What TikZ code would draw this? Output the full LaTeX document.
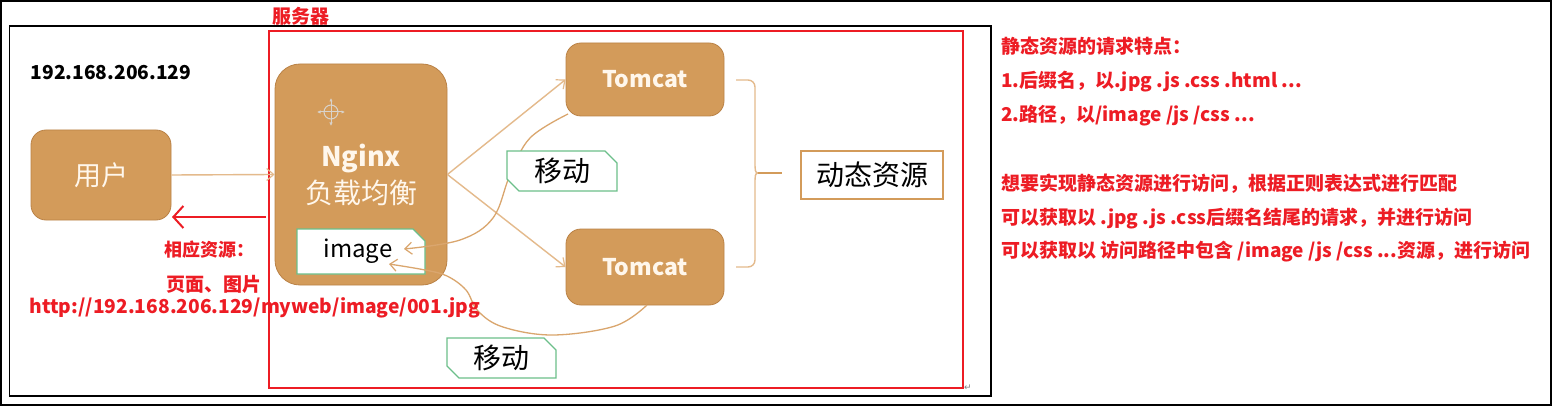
\documentclass[tikz,border=0pt]{standalone}
\usepackage{fontspec}
\setmainfont{Noto Sans CJK SC}
\newfontfamily\djv{DejaVu Sans}
\usetikzlibrary{arrows.meta,shapes.misc}
\definecolor{tanfill}{RGB}{211,155,90}
\definecolor{tanedge}{RGB}{186,130,70}
\definecolor{tanline}{RGB}{228,186,140}
\definecolor{tancurve}{RGB}{218,166,110}
\definecolor{greenedge}{RGB}{108,191,138}
\definecolor{redtxt}{RGB}{237,28,36}
\definecolor{cream}{RGB}{255,247,236}
\tikzset{
  tanbox/.style={rectangle, rounded corners=15pt, fill=tanfill, draw=tanedge, line width=0.8pt, text=cream, inner sep=0pt},
  snipbox/.style={chamfered rectangle, chamfered rectangle xsep=6pt, chamfered rectangle ysep=6pt, chamfered rectangle angle=45, fill=white, draw=greenedge, line width=1.4pt, inner sep=0pt},
  flow/.style={draw=tanline, line width=1.4pt, -{Straight Barb[length=7pt,width=12pt,line width=1.2pt]}},
  movecurve/.style={draw=tancurve, line width=1.3pt, -{Straight Barb[length=7pt,width=12pt,line width=1.2pt]}},
  redlabel/.style={text=redtxt, font=\bfseries\fontsize{18}{18}\selectfont, inner sep=0pt},
  note/.style={text=redtxt, font=\bfseries\fontsize{19}{19}\selectfont, inner sep=0pt, anchor=base west},
  frame/.style={draw=black, line width=1.3pt}
}
\begin{document}
\begin{tikzpicture}[x=1pt,y=-1pt]
\useasboundingbox (0,0) rectangle (1552,406);
\fill[white] (0,0) rectangle (1552,406);
% frames
\draw[frame] (1,1) rectangle (1551,405);
\draw[frame] (9.5,26) rectangle (991,396);
\draw[draw=redtxt, line width=2.6pt] (269,31) rectangle (963,388);
\node[redlabel, font=\bfseries\fontsize{19}{19}\selectfont] (server) at (301,16) {服务器};
\node[gray, font=\djv\fontsize{9}{9}\selectfont, inner sep=0pt] (pmark) at (968,388) {↵};

% ip
\node[inner sep=0pt, font=\bfseries\fontsize{19.2}{19.2}\selectfont] (ip) at (111,73) {192.168.206.129};

% boxes
\node[tanbox, minimum width=140pt, minimum height=90pt, font=\fontsize{27}{27}\selectfont] (user) at (101,175) {用户};
\node[tanbox, rounded corners=25pt, minimum width=172pt, minimum height=221pt] (nginx) at (361,174.5) {};
\node[text=cream, inner sep=0pt, font=\bfseries\fontsize{27}{27}\selectfont] (ngtitle) at (361,159) {Nginx};
\node[text=cream, inner sep=0pt, font=\fontsize{28}{28}\selectfont] (ngsub) at (361,193) {负载均衡};
\node[tanbox, minimum width=158pt, minimum height=73pt, font=\bfseries\fontsize{23}{23}\selectfont] (tomA) at (645,79.5) {Tomcat};
\node[tanbox, minimum width=158pt, minimum height=76pt, font=\bfseries\fontsize{23}{23}\selectfont] (tomB) at (645,267) {Tomcat};

% crosshair icon
\coordinate (ch) at (331,112);
\begin{scope}[draw=cream!70!gray, line width=1pt]
  \draw[{Latex[length=3.5pt,width=3.5pt]}-{Latex[length=3.5pt,width=3.5pt]}] (317,112) -- (345,112);
  \draw[{Latex[length=3.5pt,width=3.5pt]}-{Latex[length=3.5pt,width=3.5pt]}] (331,98) -- (331,126);
  \draw (ch) circle (7);
\end{scope}

% flows
\coordinate (r1) at (266,217);
\coordinate (r2) at (172,217);
\draw[flow] (user.east) -- (nginx.west);
\draw[draw=redtxt, line width=2.4pt, -{Straight Barb[length=10pt,width=22pt,line width=2pt]}] (r1) -- (r2);
\draw[flow] (nginx.east) -- (tomA.west);
\draw[flow] (nginx.east) -- (tomB.west);

% image box
\node[snipbox, chamfered rectangle corners={north east}, minimum width=128pt, minimum height=45pt, font=\fontsize{24}{24}\selectfont] (img) at (361,251.5) {\hspace*{-6pt}image};

% moving curves
\coordinate (c1s) at (568,114);
\coordinate (c1e) at (404,249);
\coordinate (c2s) at (647,305);
\coordinate (c2e) at (389,264);
\draw[movecurve] plot[smooth, tension=0.6] coordinates {(c1s) (530,138) (510,175) (493,218) (460,240) (c1e)};
\draw[movecurve] plot[smooth, tension=0.6] coordinates {(c2s) (615,326) (553,335) (503,327) (478,311) (466,290) (447,276) (425,270) (c2e)};

% move labels
\node[snipbox, chamfered rectangle corners={north east, south west}, minimum width=110pt, minimum height=40pt, font=\fontsize{28}{28}\selectfont] (mv1) at (562,171) {移动};
\node[snipbox, chamfered rectangle corners={north east, south west}, minimum width=109pt, minimum height=40pt, font=\fontsize{28}{28}\selectfont] (mv2) at (501.5,358) {移动};

% brace
\coordinate (bA) at (736,80);
\coordinate (bB) at (736,267);
\coordinate (bM) at (758,173);
\coordinate (bT) at (782,173);
\draw[draw=tanline, line width=1.4pt] (bA) -- (748,80) to[out=0,in=90] (755,87) -- (755,166) to[out=-90,in=180] (bM) to[out=180,in=90] (755,180) -- (755,260) to[out=-90,in=0] (748,267) -- (bB);
\draw[draw=tanfill, line width=2.4pt] (bM) -- (bT);
\node[rectangle, fill=white, draw=tanfill, line width=1.2pt, minimum width=142pt, minimum height=48pt, inner sep=0pt, font=\fontsize{28}{28}\selectfont] (dyn) at (872,175) {动态资源};

% red labels left
\node[redlabel] (resp) at (209,250) {相应资源：};
\node[redlabel, font=\bfseries\fontsize{19}{19}\selectfont] (pages) at (214,284) {页面、图片};
\node[redlabel, font=\bfseries\fontsize{19.2}{19.2}\selectfont] (url) at (255,308) {http://192.168.206.129/myweb/image/001.jpg};

% right notes
\node[note] (n1) at (1001,54) {静态资源的请求特点：};
\node[note] (n2) at (1001,88) {1.后缀名，以.jpg .js .css .html ...};
\node[note] (n3) at (1001,122) {2.路径，以/image /js /css ...};
\node[note] (n4) at (1001,190) {想要实现静态资源进行访问，根据正则表达式进行匹配};
\node[note] (n5) at (1001,224) {可以获取以 .jpg .js .css后缀名结尾的请求，并进行访问};
\node[note] (n6) at (1001,257) {可以获取以 访问路径中包含 /image /js /css ...资源，进行访问};
\end{tikzpicture}
\end{document}
